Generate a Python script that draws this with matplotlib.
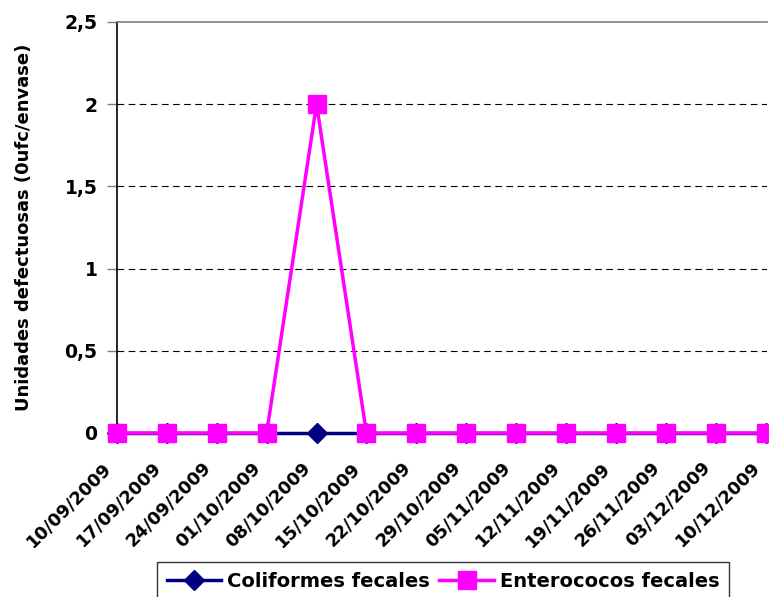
import matplotlib
matplotlib.use("Agg")
import matplotlib.pyplot as plt
import matplotlib.transforms as mtransforms
from matplotlib.ticker import FuncFormatter

plt.rcParams['font.family'] = ['DejaVu Sans']
plt.rcParams['font.weight'] = 'bold'

fechas = ["10/09/2009", "17/09/2009", "24/09/2009", "01/10/2009", "08/10/2009",
          "15/10/2009", "22/10/2009", "29/10/2009", "05/11/2009", "12/11/2009",
          "19/11/2009", "26/11/2009", "03/12/2009", "10/12/2009"]
coliformes = [0, 0, 0, 0, 0, 0, 0, 0, 0, 0, 0, 0, 0, 0]
enterococos = [0, 0, 0, 0, 2, 0, 0, 0, 0, 0, 0, 0, 0, 0]
yticks = [0, 0.5, 1, 1.5, 2, 2.5]

fig = plt.figure(figsize=(7.69, 5.97), dpi=100)
ax = fig.add_axes([117 / 769, 1 - 433 / 597, (767 - 117) / 769, (433 - 22) / 597])

x = list(range(len(fechas)))
ax.plot(x, coliformes, color='#000080', lw=2.5, marker='D', ms=10,
        label='Coliformes fecales', zorder=3, clip_on=False)
ax.plot(x, enterococos, color='#FF00FF', lw=2.5, marker='s', ms=12.5,
        label='Enterococos fecales', zorder=4, clip_on=False)

ax.set_xlim(0, len(fechas) - 1 + 0.03)
ax.set_ylim(0, 2.5)
ax.set_yticks(yticks)
ax.yaxis.set_major_formatter(FuncFormatter(
    lambda v, p: ('%g' % v).replace('.', ',')))
ax.set_xticks(x)
ax.set_xticklabels(fechas, rotation=45, ha='right', rotation_mode='anchor',
                   fontsize=12.8, fontweight='bold')
ax.tick_params(axis='x', length=0, pad=14)
ax.tick_params(axis='y', length=7, width=1, color='#808080',
               labelsize=13.5, pad=7)

# nudge the slanted date labels to the lower left of their points
shift = mtransforms.ScaledTranslation(-15 / 100, -6 / 100, fig.dpi_scale_trans)
for lbl in ax.get_xticklabels():
    lbl.set_transform(lbl.get_transform() + shift)

for v in yticks[1:-1]:
    ax.axhline(v, color='#000000', lw=0.8, ls=(0, (6, 4)), zorder=1)

ax.spines['right'].set_visible(False)
ax.spines['top'].set_color('#808080')
ax.spines['top'].set_linewidth(1.2)
ax.spines['left'].set_linewidth(1.2)
ax.spines['bottom'].set_linewidth(1.2)

ax.set_ylabel('Unidades defectuosas (0ufc/envase)', fontsize=13,
              fontweight='bold', labelpad=23)

leg = fig.legend(loc='upper center', bbox_to_anchor=(443 / 769, 1 - 562 / 597),
                 ncol=2, frameon=True, fancybox=False, edgecolor='black',
                 prop={'size': 14, 'weight': 'bold'}, handlelength=2.8,
                 columnspacing=0.5, handletextpad=0.3, borderpad=0.5,
                 borderaxespad=0)
leg.get_frame().set_linewidth(1.0)

fig.savefig('out.png', dpi=100)
